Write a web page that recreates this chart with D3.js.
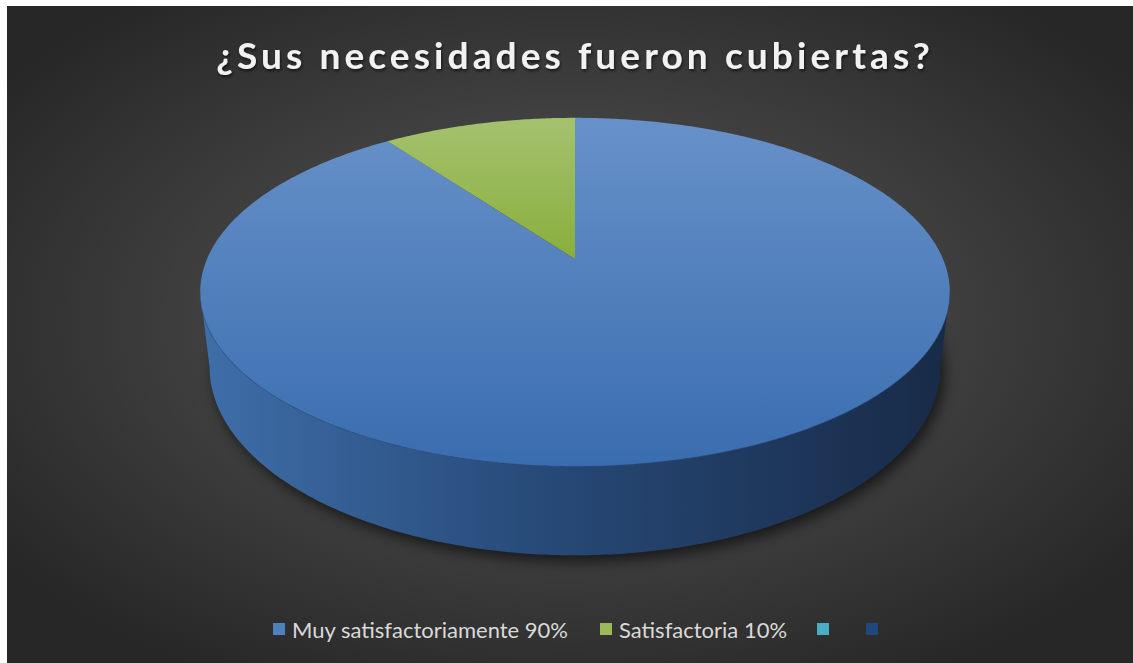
<!DOCTYPE html>
<html>
<head>
<meta charset="utf-8">
<script src="https://cdn.jsdelivr.net/npm/d3@7"></script>
<style>
  html, body { margin: 0; padding: 0; background: #fff; }
</style>
</head>
<body>
<script>
const width = 1133, height = 663;

// data
const categories = ["Muy satisfactoriamente 90%", "Satisfactoria 10%", "", ""];
const values = [90, 10, 0, 0];
const colors = ["#4f81bd", "#9bbb59", "#4bacc6", "#1f497d"];

const svg = d3.select("body").append("svg")
    .attr("width", width)
    .attr("height", height);

const defs = svg.append("defs");

// background gradient
const bg = defs.append("radialGradient").attr("id", "bg")
    .attr("cx", "50%").attr("cy", "48%").attr("r", "62%");
bg.append("stop").attr("offset", "0%").attr("stop-color", "#5a5a5a");
bg.append("stop").attr("offset", "100%").attr("stop-color", "#272727");

const topBlue = defs.append("linearGradient").attr("id", "topBlue")
    .attr("x1", 0).attr("y1", 0).attr("x2", 0).attr("y2", 1);
topBlue.append("stop").attr("offset", "0%").attr("stop-color", "#6791c9");
topBlue.append("stop").attr("offset", "100%").attr("stop-color", "#3a6daf");

const topGreen = defs.append("linearGradient").attr("id", "topGreen")
    .attr("x1", 0).attr("y1", 0).attr("x2", 0).attr("y2", 1);
topGreen.append("stop").attr("offset", "0%").attr("stop-color", "#a4c26e");
topGreen.append("stop").attr("offset", "100%").attr("stop-color", "#8aae3c");

const side = defs.append("linearGradient").attr("id", "side")
    .attr("x1", 0).attr("y1", 0).attr("x2", 1).attr("y2", 0);
side.append("stop").attr("offset", "0%").attr("stop-color", "#3f6ea9");
side.append("stop").attr("offset", "45%").attr("stop-color", "#274a78");
side.append("stop").attr("offset", "100%").attr("stop-color", "#182a47");

const blur = defs.append("filter").attr("id", "blur")
    .attr("x", "-20%").attr("y", "-20%").attr("width", "140%").attr("height", "140%");
blur.append("feGaussianBlur").attr("stdDeviation", 7);

const tshadow = defs.append("filter").attr("id", "tshadow");
tshadow.append("feDropShadow").attr("dx", 1).attr("dy", 2)
    .attr("stdDeviation", 1.5).attr("flood-color", "#000").attr("flood-opacity", 0.6);

svg.append("rect")
    .attr("x", 7).attr("y", 6)
    .attr("width", width - 7).attr("height", height - 6)
    .attr("fill", "url(#bg)");

// title
svg.append("text")
    .attr("x", 575)
    .attr("y", 69)
    .attr("text-anchor", "middle")
    .attr("font-family", "Lato, 'Open Sans', sans-serif")
    .attr("font-weight", "bold")
    .attr("font-size", 37)
    .attr("letter-spacing", 4.1)
    .attr("fill", "#f2f2f2")
    .attr("filter", "url(#tshadow)")
    .text("¿Sus necesidades fueron cubiertas?");

// 3d pie projection
const cx = 575, cy = 259, A = 368, B = 168, k = 0.19, H = 72, shrink = 0.975;

function proj(theta, bottom) {
  const u = Math.cos(theta);
  const s = 1 / (1 + k * u);
  let x = A * Math.sin(theta) * s;
  let y = -B * u * s;
  if (bottom) { x *= shrink; y += H * s; }
  return [cx + x, cy + y];
}

const pie = d3.pie().sort(null).value(d => d)(values);
const line = d3.line();

function arcPts(a0, a1, bottom) {
  const n = Math.max(2, Math.ceil(Math.abs(a1 - a0) / 0.01));
  return d3.range(n + 1).map(i => proj(a0 + (a1 - a0) * i / n, bottom));
}

// visible wall between the two silhouette tangents
const tA = Math.acos(-k);
const wallTop = arcPts(tA, 2 * Math.PI - tA, false);
const wallBot = arcPts(2 * Math.PI - tA, tA, true);

// shadow below the pie
svg.append("path")
    .attr("d", line(arcPts(0, 2 * Math.PI, true).map(p => [p[0] + 4, p[1] + 6])) + "Z")
    .attr("fill", "#000")
    .attr("opacity", 0.6)
    .attr("filter", "url(#blur)");

svg.append("path")
    .attr("d", line(wallTop.concat(wallBot)) + "Z")
    .attr("fill", "url(#side)");

const fills = ["url(#topBlue)", "url(#topGreen)"];
svg.append("g").selectAll("path")
  .data(pie.filter(d => d.value > 0))
  .join("path")
    .attr("d", d => line([[cx, cy]].concat(arcPts(d.startAngle, d.endAngle, false))) + "Z")
    .attr("fill", (d, i) => fills[d.index] || colors[d.index]);

// subtle rim line between top and side
svg.append("path")
    .attr("d", line(wallTop))
    .attr("fill", "none")
    .attr("stroke", "#2c4f80")
    .attr("stroke-width", 1)
    .attr("opacity", 0.5);

// legend
const legendX = [273, 600, 817, 866];
const lg = svg.append("g").selectAll("g")
  .data(categories)
  .join("g")
    .attr("transform", (d, i) => `translate(${legendX[i]},630)`);

lg.append("rect")
    .attr("x", 0).attr("y", -7)
    .attr("width", 12).attr("height", 12)
    .attr("fill", (d, i) => colors[i]);

lg.append("text")
    .attr("x", 19)
    .attr("y", 7.5)
    .attr("font-family", "Lato, 'Open Sans', sans-serif")
    .attr("font-size", 22)
    .attr("fill", "#d9d9d9")
    .text(d => d);
</script>
</body>
</html>
